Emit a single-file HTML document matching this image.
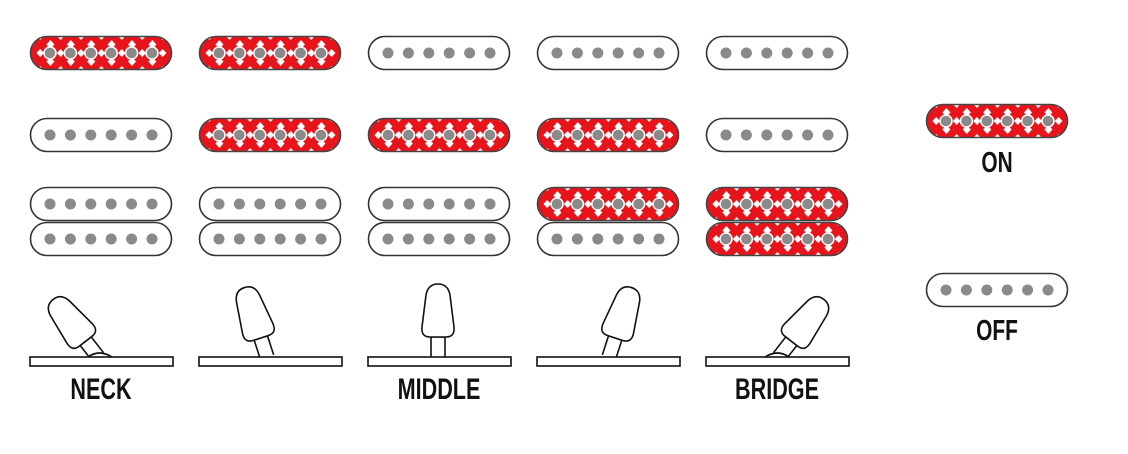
<!DOCTYPE html>
<html><head><style>
html,body{margin:0;padding:0;background:#fff;}
svg{display:block;}
text{font-family:"Liberation Sans",sans-serif;font-weight:bold;fill:#111;}
</style></head><body>
<svg width="1128" height="454" viewBox="0 0 1128 454" xmlns="http://www.w3.org/2000/svg">
<defs>
<pattern id="dia" x="0" y="0" width="20.4" height="17" patternUnits="userSpaceOnUse">
<rect width="20.4" height="17" fill="#e8141b"/>
<polygon points="0,4 4,8.5 0,13 -4,8.5" fill="#fff"/>
<polygon points="20.4,4 24.4,8.5 20.4,13 16.4,8.5" fill="#fff"/>
<polygon points="10.2,-4 14,0 10.2,4 6.4,0" fill="#fff"/>
<polygon points="10.2,13 14,17 10.2,21 6.4,17" fill="#fff"/>
</pattern>
<g id="poles">
<g fill="#8a8a8a" stroke="#fff" stroke-width="1.5">
<circle cx="20" cy="17" r="6"/><circle cx="40.4" cy="17" r="6"/><circle cx="60.8" cy="17" r="6"/><circle cx="81.2" cy="17" r="6"/><circle cx="101.6" cy="17" r="6"/><circle cx="122" cy="17" r="6"/>
</g></g>
<g id="off">
<rect x="0.5" y="0.5" width="141" height="33" rx="16.5" fill="#fff" stroke="#333" stroke-width="1.6"/>
<g fill="#8a8a8a"><circle cx="20" cy="17" r="5.5"/><circle cx="40.4" cy="17" r="5.5"/><circle cx="60.8" cy="17" r="5.5"/><circle cx="81.2" cy="17" r="5.5"/><circle cx="101.6" cy="17" r="5.5"/><circle cx="122" cy="17" r="5.5"/></g>
</g>
<g id="on">
<rect x="0.5" y="0.5" width="141" height="33" rx="16.5" fill="url(#dia)" stroke="#444" stroke-width="1.6"/>
<use href="#poles"/>
</g>
<g id="lever" fill="#fff" stroke="#111" stroke-width="1.6">
<path d="M-7,0 L-7,-20 L7,-20 L7,0"/>
<path d="M-16,-30 Q-17,-20 -8,-20 L8,-20 Q17,-20 16,-30 L12,-62 Q10,-73 0,-73 Q-10,-73 -12,-62 Z"/>
</g>
</defs>

<use href="#on" x="30" y="36"/><use href="#on" x="199" y="36"/><use href="#off" x="368" y="36"/><use href="#off" x="537" y="36"/><use href="#off" x="706" y="36"/>
<use href="#off" x="30" y="118"/><use href="#on" x="199" y="118"/><use href="#on" x="368" y="118"/><use href="#on" x="537" y="118"/><use href="#off" x="706" y="118"/>
<use href="#off" x="30" y="187"/><use href="#off" x="199" y="187"/><use href="#off" x="368" y="187"/><use href="#on" x="537" y="187"/><use href="#on" x="706" y="187"/>
<use href="#off" x="30" y="222"/><use href="#off" x="199" y="222"/><use href="#off" x="368" y="222"/><use href="#off" x="537" y="222"/><use href="#on" x="706" y="222"/>

<use href="#on" x="926" y="104"/>
<use href="#off" x="926" y="273"/>
<text transform="translate(997,172) scale(0.72,1)" font-size="29" text-anchor="middle">ON</text>
<text transform="translate(997,340) scale(0.72,1)" font-size="29" text-anchor="middle">OFF</text>

<g fill="#fff" stroke="#111" stroke-width="1.6">
<g transform="translate(98,357) rotate(-38)"><use href="#lever"/></g>
<path d="M88,357 Q99,349 112,357" />
<rect x="30" y="357" width="143" height="9"/>
<g transform="translate(267,357) rotate(-18)"><use href="#lever"/></g>
<rect x="199" y="357" width="143" height="9"/>
<g transform="translate(438,357)"><use href="#lever"/></g>
<rect x="368" y="357" width="143" height="9"/>
<g transform="translate(609,357) rotate(18)"><use href="#lever"/></g>
<rect x="537" y="357" width="143" height="9"/>
<g transform="translate(779,357) rotate(38)"><use href="#lever"/></g>
<path d="M765,357 Q778,349 789,357" />
<rect x="706" y="357" width="143" height="9"/>
</g>
<text transform="translate(101,399) scale(0.72,1)" font-size="30" text-anchor="middle">NECK</text>
<text transform="translate(439,399) scale(0.72,1)" font-size="30" text-anchor="middle">MIDDLE</text>
<text transform="translate(777,399) scale(0.72,1)" font-size="30" text-anchor="middle">BRIDGE</text>
</svg>
</body></html>
